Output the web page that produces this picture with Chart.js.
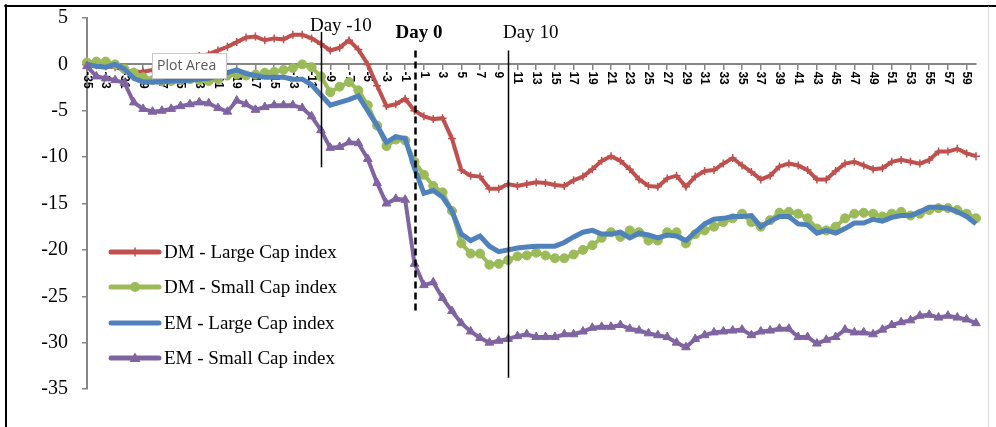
<!DOCTYPE html>
<html>
<head>
<meta charset="utf-8">
<style>
  html, body { margin: 0; padding: 0; background: #fff; }
  #chart { display: block; }
</style>
<script src="https://cdn.jsdelivr.net/npm/chart.js@4/dist/chart.umd.min.js"></script>
</head>
<body>
<canvas id="chart" width="996" height="427"></canvas>
<script>
// event window, days relative to day 0
const days = [-35, -34, -33, -32, -31, -30, -29, -28, -27, -26,
  -25, -24, -23, -22, -21, -20, -19, -18, -17, -16,
  -15, -14, -13, -12, -11, -10, -9, -8, -7, -6,
  -5, -4, -3, -2, -1, 0, 1, 2, 3, 4,
  5, 6, 7, 8, 9, 10, 11, 12, 13, 14,
  15, 16, 17, 18, 19, 20, 21, 22, 23, 24,
  25, 26, 27, 28, 29, 30, 31, 32, 33, 34,
  35, 36, 37, 38, 39, 40, 41, 42, 43, 44,
  45, 46, 47, 48, 49, 50, 51, 52, 53, 54,
  55, 56, 57, 58, 59, 60];

const dmLarge = [0.0, -0.1, -0.2, -0.3, -0.6, -0.8, -0.8, -0.6, -0.3, 0.0,
  0.3, 0.6, 0.9, 1.1, 1.5, 1.9, 2.4, 2.9, 3.0, 2.6,
  2.8, 2.7, 3.2, 3.2, 2.8, 2.2, 1.5, 1.8, 2.6, 1.6,
  0.0, -2.3, -4.5, -4.3, -3.7, -5.0, -5.6, -5.9, -5.8, -8.0,
  -11.4, -12.0, -12.1, -13.4, -13.4, -12.9, -13.1, -12.9, -12.7, -12.8,
  -13.0, -13.1, -12.5, -12.1, -11.3, -10.4, -9.9, -10.4, -11.3, -12.4,
  -13.1, -13.2, -12.3, -12.0, -13.2, -12.1, -11.5, -11.4, -10.7, -10.1,
  -10.9, -11.6, -12.4, -12.0, -11.0, -10.7, -10.9, -11.4, -12.4, -12.4,
  -11.5, -10.7, -10.5, -10.9, -11.3, -11.2, -10.5, -10.3, -10.5, -10.7,
  -10.3, -9.4, -9.4, -9.1, -9.6, -9.9];

const dmSmall = [0.2, 0.3, 0.3, 0.0, -0.5, -0.9, -1.4, -1.7, -1.8, -1.8,
  -1.7, -1.6, -1.7, -1.8, -1.6, -1.2, -1.1, -1.2, -1.1, -0.9,
  -0.8, -0.6, -0.4, 0.0, -0.3, -1.3, -3.0, -2.4, -1.9, -2.8,
  -4.4, -6.6, -8.8, -8.1, -8.2, -10.5, -11.9, -13.1, -13.8, -15.8,
  -19.3, -20.4, -20.4, -21.6, -21.5, -21.1, -20.7, -20.6, -20.3, -20.6,
  -20.9, -20.9, -20.5, -20.0, -19.5, -18.7, -18.1, -18.6, -17.9, -18.1,
  -19.0, -19.0, -18.1, -18.1, -19.3, -18.3, -17.9, -17.5, -17.0, -16.6,
  -16.1, -17.0, -17.5, -16.8, -16.0, -15.9, -16.1, -16.6, -17.7, -17.9,
  -17.5, -16.6, -16.1, -16.0, -16.1, -16.4, -16.1, -15.9, -16.3, -16.1,
  -15.7, -15.5, -15.5, -15.7, -16.1, -16.6];

const emLarge = [0.0, -0.2, -0.3, 0.0, -0.5, -1.5, -1.9, -1.9, -1.9, -1.8,
  -1.8, -1.7, -1.6, -1.5, -1.2, -0.9, -0.6, -1.0, -1.2, -1.4,
  -1.4, -1.4, -1.6, -1.6, -2.2, -3.3, -4.4, -4.1, -3.8, -3.4,
  -5.0, -6.6, -8.4, -7.8, -8.0, -11.2, -13.9, -13.6, -14.3, -15.8,
  -18.3, -19.0, -18.5, -19.6, -20.2, -20.0, -19.8, -19.7, -19.6, -19.6,
  -19.6, -19.2, -18.6, -18.1, -17.9, -18.3, -18.3, -18.1, -18.7, -18.2,
  -18.4, -18.7, -18.4, -18.5, -19.0, -18.1, -17.2, -16.7, -16.6, -16.4,
  -16.4, -16.3, -17.5, -16.9, -16.4, -16.4, -17.2, -17.3, -18.2, -17.9,
  -18.2, -17.7, -17.1, -17.1, -16.7, -16.9, -16.5, -16.3, -16.3, -15.9,
  -15.4, -15.4, -15.5, -15.9, -16.4, -17.2];

const emSmall = [-0.2, -1.3, -1.5, -1.7, -2.0, -4.1, -4.8, -5.1, -5.0, -4.8,
  -4.5, -4.3, -4.1, -4.2, -4.7, -5.1, -3.9, -4.3, -4.9, -4.6,
  -4.4, -4.4, -4.4, -4.7, -5.6, -7.1, -9.0, -8.9, -8.4, -8.5,
  -10.2, -12.8, -15.0, -14.5, -14.6, -21.5, -23.8, -23.5, -25.2, -26.6,
  -27.9, -28.8, -29.5, -30.0, -29.8, -29.6, -29.3, -29.1, -29.4, -29.4,
  -29.4, -29.1, -29.1, -28.8, -28.4, -28.3, -28.3, -28.1, -28.5, -28.7,
  -29.0, -29.2, -29.4, -30.0, -30.5, -29.6, -29.2, -28.9, -28.8, -28.7,
  -28.6, -29.2, -28.8, -28.7, -28.5, -28.5, -29.4, -29.4, -30.1, -29.7,
  -29.4, -28.6, -28.9, -28.9, -29.1, -28.6, -28.1, -27.8, -27.6, -27.1,
  -27.0, -27.3, -27.1, -27.3, -27.5, -27.9];

const seriesNames = ["DM - Large Cap index", "DM - Small Cap index", "EM - Large Cap index", "EM - Small Cap index"];

// marker lines: day, label, top and bottom of the line in y units
const eventDays = [-10, 0, 10];
const eventLabels = ["Day -10", "Day 0", "Day 10"];
const eventTop = [3.5, 1.5, 1.5];
const eventBottom = [-11.1, -26.6, -33.8];

const RED = "#C0504D", GREEN = "#9BBB59", BLUE = "#4F81BD", PURPLE = "#8064A2";
const AXIS = "#868686";
const SERIF = "'Liberation Serif', 'Times New Roman', serif";

function drawMarker(ctx, style, x, y, color) {
  ctx.save();
  ctx.fillStyle = color;
  ctx.strokeStyle = color;
  if (style === "circle") {
    ctx.beginPath();
    ctx.arc(x, y, 5, 0, Math.PI * 2);
    ctx.fill();
  } else if (style === "triangle") {
    ctx.beginPath();
    ctx.moveTo(x, y - 5.5);
    ctx.lineTo(x + 5.5, y + 4);
    ctx.lineTo(x - 5.5, y + 4);
    ctx.closePath();
    ctx.fill();
  } else if (style === "cross") {
    ctx.lineWidth = 1.5;
    ctx.beginPath();
    ctx.moveTo(x, y - 4);
    ctx.lineTo(x, y + 4);
    ctx.moveTo(x - 4, y);
    ctx.lineTo(x + 4, y);
    ctx.stroke();
  }
  ctx.restore();
}

const overlay = {
  id: "overlay",
  beforeDraw(chart) {
    const ctx = chart.ctx;
    ctx.save();
    ctx.fillStyle = "#fff";
    ctx.fillRect(0, 0, chart.width, chart.height);
    ctx.restore();
  },
  beforeDatasetsDraw(chart) {
    // rotated category labels under the zero line
    const ctx = chart.ctx, xs = chart.scales.x, ys = chart.scales.y;
    const y0 = ys.getPixelForValue(0) + 7;
    ctx.save();
    ctx.fillStyle = "#000";
    ctx.font = "bold 12px 'Liberation Sans', Arial, sans-serif";
    ctx.textAlign = "left";
    ctx.textBaseline = "middle";
    days.forEach((d, i) => {
      if (i % 2 !== 0) return;
      ctx.save();
      ctx.translate(xs.getPixelForValue(i), y0);
      ctx.rotate(Math.PI / 2);
      ctx.fillText(String(d), 0, 0);
      ctx.restore();
    });
    ctx.restore();
  },
  afterDatasetsDraw(chart) {
    const ctx = chart.ctx, xs = chart.scales.x, ys = chart.scales.y;
    ctx.save();

    // event lines
    eventDays.forEach((d, i) => {
      const x = Math.round(xs.getPixelForValue(days.indexOf(d))) + 0.5;
      ctx.beginPath();
      ctx.strokeStyle = "#000";
      if (d === 0) {
        ctx.lineWidth = 2.5;
        ctx.setLineDash([7, 4]);
      } else {
        ctx.lineWidth = 1.5;
        ctx.setLineDash([]);
      }
      ctx.moveTo(x, ys.getPixelForValue(eventTop[i]));
      ctx.lineTo(x, ys.getPixelForValue(eventBottom[i]));
      ctx.stroke();
    });
    ctx.setLineDash([]);

    ctx.fillStyle = "#000";
    ctx.textAlign = "left";
    ctx.textBaseline = "alphabetic";
    eventDays.forEach((d, i) => {
      const x = xs.getPixelForValue(days.indexOf(d));
      if (d === 0) {
        ctx.font = "bold 19px " + SERIF;
        ctx.fillText(eventLabels[i], x - 19, 38);
      } else if (d < 0) {
        ctx.font = "19px " + SERIF;
        ctx.fillText(eventLabels[i], x - 11, 31);
      } else {
        ctx.font = "19px " + SERIF;
        ctx.fillText(eventLabels[i], x - 5, 38);
      }
    });

    // legend inside the plot area
    const styles = ["cross", "circle", null, "triangle"];
    const cols = [RED, GREEN, BLUE, PURPLE];
    const rows = [252, 287, 323, 358];
    ctx.font = "19px " + SERIF;
    ctx.textBaseline = "middle";
    seriesNames.forEach((name, i) => {
      const y = rows[i];
      ctx.beginPath();
      ctx.strokeStyle = cols[i];
      ctx.lineWidth = 5;
      ctx.lineCap = "round";
      ctx.moveTo(111, y);
      ctx.lineTo(159, y);
      ctx.stroke();
      if (styles[i]) drawMarker(ctx, styles[i], 135, y, cols[i]);
      ctx.fillStyle = "#000";
      ctx.fillText(name, 164, y + 1);
    });

    // Excel hover tip left in the screenshot
    ctx.save();
    ctx.shadowColor = "rgba(0,0,0,0.18)";
    ctx.shadowBlur = 3;
    ctx.shadowOffsetX = 1;
    ctx.shadowOffsetY = 1;
    ctx.fillStyle = "#fff";
    ctx.fillRect(152.5, 53.5, 74, 25);
    ctx.restore();
    ctx.strokeStyle = "#c8c8c8";
    ctx.lineWidth = 1;
    ctx.strokeRect(152.5, 53.5, 74, 25);
    ctx.fillStyle = "#5a5a5a";
    ctx.font = "14px 'Open Sans', 'Noto Sans', sans-serif";
    ctx.textBaseline = "middle";
    ctx.fillText("Plot Area", 157, 66.5);

    // frame
    ctx.strokeStyle = "#000";
    ctx.lineWidth = 2;
    ctx.beginPath();
    ctx.moveTo(5, 6);
    ctx.lineTo(chart.width, 6);
    ctx.moveTo(6, 5);
    ctx.lineTo(6, chart.height);
    ctx.stroke();
    ctx.strokeStyle = "#dadada";
    ctx.lineWidth = 1;
    ctx.beginPath();
    ctx.moveTo(988.5, 7);
    ctx.lineTo(988.5, chart.height);
    ctx.stroke();

    ctx.restore();
  }
};

const labels = days.map(String);

new Chart(document.getElementById("chart"), {
  type: "line",
  data: {
    labels: labels,
    datasets: [
      {
        label: seriesNames[0],
        data: dmLarge,
        borderColor: RED,
        borderWidth: 4,
        pointStyle: "cross",
        pointRadius: 4,
        pointBorderWidth: 1.5,
        pointBorderColor: RED,
        pointBackgroundColor: RED,
        order: 4,
      },
      {
        label: seriesNames[1],
        data: dmSmall,
        borderColor: GREEN,
        borderWidth: 4,
        pointStyle: "circle",
        pointRadius: 4.5,
        pointBorderWidth: 1,
        pointBorderColor: GREEN,
        pointBackgroundColor: GREEN,
        order: 3,
      },
      {
        label: seriesNames[2],
        data: emLarge,
        borderColor: BLUE,
        borderWidth: 5,
        pointRadius: 0,
        order: 2,
      },
      {
        label: seriesNames[3],
        data: emSmall,
        borderColor: PURPLE,
        borderWidth: 4,
        pointStyle: "triangle",
        pointRadius: 5,
        pointBorderWidth: 1,
        pointBorderColor: PURPLE,
        pointBackgroundColor: PURPLE,
        order: 1,
      },
    ],
  },
  options: {
    responsive: false,
    devicePixelRatio: 1,
    animation: false,
    layout: { padding: { left: 0, right: 20, top: 18, bottom: 38 } },
    elements: { line: { tension: 0, fill: false }, point: { hitRadius: 0 } },
    datasets: { line: { clip: false } },
    plugins: {
      legend: { display: false },
      tooltip: { enabled: false },
    },
    scales: {
      x: {
        type: "category",
        position: { y: 0 },
        offset: false,
        ticks: { display: false, autoSkip: false },
        grid: {
          display: true,
          drawOnChartArea: false,
          drawTicks: true,
          tickLength: 5,
          lineWidth: 1.5,
          tickColor: (c) => (c.index % 2 === 0 ? AXIS : "rgba(0,0,0,0)"),
        },
        border: { display: true, color: AXIS, width: 2 },
      },
      y: {
        min: -35,
        max: 5,
        afterFit(scale) { scale.width = 87; },
        ticks: {
          stepSize: 5,
          color: "#000",
          padding: 14,
          font: { family: SERIF, size: 20, lineHeight: 0.3 },
        },
        grid: {
          display: true,
          drawOnChartArea: false,
          drawTicks: true,
          tickLength: 5,
          lineWidth: 1.5,
          color: AXIS,
        },
        border: { display: true, color: AXIS, width: 2 },
      },
    },
  },
  plugins: [overlay],
});
</script>
</body>
</html>
